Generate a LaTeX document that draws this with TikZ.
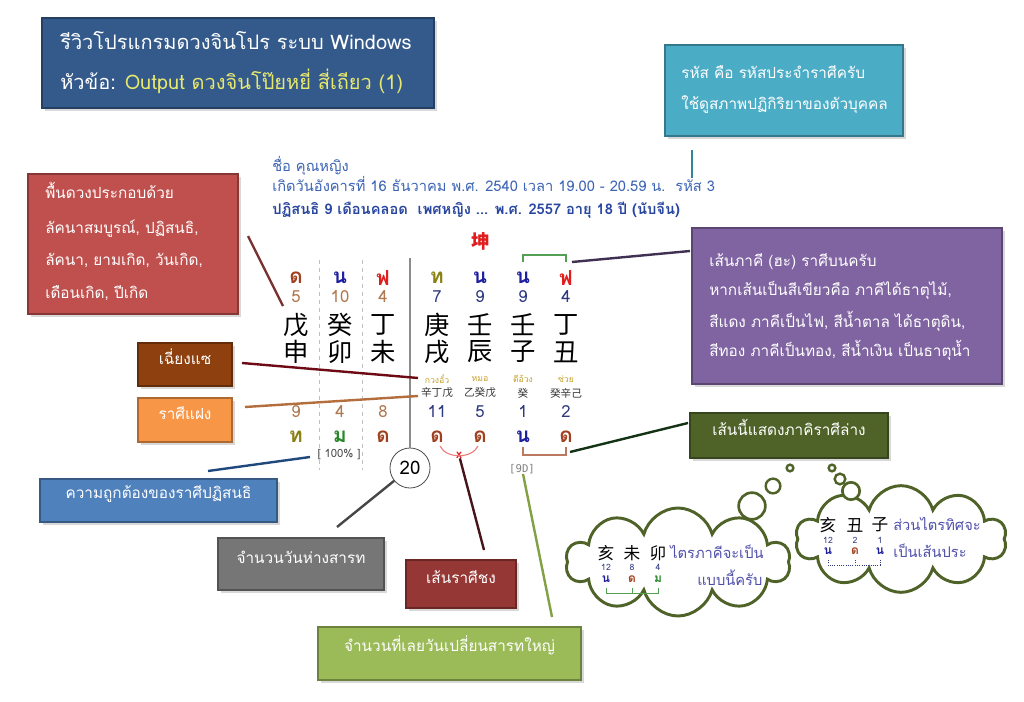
\documentclass[tikz,border=0pt]{standalone}
\usepackage{fontspec}
\setmainfont{Loma}[Script=Thai]
\newfontfamily\cjk{Noto Sans CJK SC}
\newfontfamily\mono{DejaVu Sans Mono}
\usetikzlibrary{shapes.symbols,shadows,fit}

\definecolor{titleblue}{RGB}{52,90,140}
\definecolor{titleyellow}{RGB}{232,232,110}
\definecolor{cyanbox}{RGB}{75,172,198}
\definecolor{redbox}{RGB}{192,80,77}
\definecolor{purplebox}{RGB}{128,100,162}
\definecolor{brownbox}{RGB}{142,64,14}
\definecolor{orangebox}{RGB}{247,150,70}
\definecolor{bluebox}{RGB}{79,129,189}
\definecolor{graybox}{RGB}{118,118,118}
\definecolor{darkredbox}{RGB}{149,55,53}
\definecolor{greenbox}{RGB}{155,187,89}
\definecolor{darkgreenbox}{RGB}{79,98,40}
\definecolor{puffgreen}{RGB}{79,98,40}
\definecolor{headblue}{RGB}{60,100,180}
\definecolor{headdark}{RGB}{40,70,160}
\definecolor{dcol}{RGB}{160,64,30}
\definecolor{ncol}{RGB}{30,30,160}
\definecolor{fcol}{RGB}{225,30,30}
\definecolor{tcol}{RGB}{140,130,20}
\definecolor{mcol}{RGB}{40,135,40}
\definecolor{tancol}{RGB}{176,120,80}
\definecolor{navycol}{RGB}{46,58,128}
\definecolor{goldcol}{RGB}{200,160,40}
\definecolor{thinkcol}{RGB}{80,80,170}
\definecolor{redlink}{RGB}{120,50,50}
\definecolor{brownlink}{RGB}{110,10,20}
\definecolor{orangelink}{RGB}{180,110,60}
\definecolor{bluelink}{RGB}{31,73,125}
\definecolor{graylink}{RGB}{70,70,70}
\definecolor{darkredlink}{RGB}{70,20,25}
\definecolor{greenlink}{RGB}{130,160,70}
\definecolor{cyanlink}{RGB}{49,132,155}
\definecolor{purplelink}{RGB}{64,49,82}
\definecolor{darkgreenlink}{RGB}{20,50,20}

\begin{document}
\begin{tikzpicture}
[x=0.75pt,y=-0.75pt,every node/.style={inner sep=0pt},
 note/.style={draw=#1!70!black,fill=#1,line width=1.2pt,text=white,
   font=\fontsize{11.5}{14}\selectfont,
   drop shadow={shadow xshift=2pt,shadow yshift=-2pt,opacity=0.3}},
 notetext/.style={anchor=base west,text=white,font=\fontsize{11.5}{14}\selectfont},
 headtext/.style={anchor=base west,text=headblue,font=\fontsize{11}{13}\selectfont},
 link/.style={draw=#1,line width=1.8pt},
 tag/.style={font=\bfseries\fontsize{15.5}{16}\selectfont},
 num/.style={font=\fontsize{12.5}{13}\selectfont},
 han/.style={font=\cjk\fontsize{19}{19}\selectfont},
 hansmall/.style={font=\cjk\fontsize{8}{8}\selectfont,text=black!80},
 smallhan/.style={font=\cjk\fontsize{12.5}{13}\selectfont},
 mini/.style={font=\fontsize{6.5}{7}\selectfont},
 minitag/.style={font=\bfseries\fontsize{9}{9}\selectfont},
 think/.style={anchor=base west,text=thinkcol,font=\fontsize{11}{13}\selectfont},
 puff/.style={draw=puffgreen,line width=2.2pt,fill=white}]

  \fill[white] (0,0) rectangle (1024,702);
  \useasboundingbox (0,0) rectangle (1024,702);

  % title
  \node[note=titleblue,fit={(42,18) (434,108)}] (titlebox) {};
  \node[notetext,font=\fontsize{15}{18}\selectfont] (title1) at (60,50) {รีวิวโปรแกรมดวงจินโปร ระบบ Windows};
  \node[notetext,font=\fontsize{15}{18}\selectfont] (title2) at (60,90) {หัวข้อ: \textcolor{titleyellow}{Output ดวงจินโป๊ยหยี่ สี่เถียว (1)}};

  % boxes with several lines
  \node[note=cyanbox,fit={(665,45) (903,136)}] (codebox) {};
  \node[notetext] (code1) at (681,79) {รหัส คือ รหัสประจำราศีครับ};
  \node[notetext] (code2) at (681,110) {ใช้ดูสภาพปฏิกิริยาของตัวบุคคล};

  \node[note=redbox,fit={(28,174) (238,314)}] (basebox) {};
  \node[notetext] (base1) at (45,199) {พื้นดวงประกอบด้วย};
  \node[notetext] (base2) at (45,234) {ลัคนาสมบูรณ์, ปฏิสนธิ,};
  \node[notetext] (base3) at (45,266) {ลัคนา, ยามเกิด, วันเกิด,};
  \node[notetext] (base4) at (45,298) {เดือนเกิด, ปีเกิด};

  \node[note=purplebox,fit={(692,228) (1002,384)}] (hapbox) {};
  \node[notetext] (hap1) at (709,267) {เส้นภาคี (ฮะ) ราศีบนครับ};
  \node[notetext] (hap2) at (709,296) {หากเส้นเป็นสีเขียวคือ ภาคีได้ธาตุไม้,};
  \node[notetext] (hap3) at (709,327) {สีแดง ภาคีเป็นไฟ, สีน้ำตาล ได้ธาตุดิน,};
  \node[notetext] (hap4) at (709,356) {สีทอง ภาคีเป็นทอง, สีน้ำเงิน เป็นธาตุน้ำ};

  % boxes with one line
  \node[note=brownbox,fit={(138,343) (232,386)}] (cheangbox) {เฉี่ยงแซ};
  \node[note=orangebox,fit={(138,398) (232,442)}] (hiddenbox) {ราศีแฝง};
  \node[note=bluebox,fit={(40,479) (277,522)}] (accbox) {ความถูกต้องของราศีปฏิสนธิ};
  \node[note=graybox,fit={(218,538) (384,590)}] (daysbox) {จำนวนวันห่างสารท};
  \node[note=darkredbox,fit={(406,560) (516,608)}] (clashbox) {เส้นราศีชง};
  \node[note=greenbox,fit={(318,627) (581,680)}] (overbox) {จำนวนที่เลยวันเปลี่ยนสารทใหญ่};
  \node[note=darkgreenbox,fit={(690,413) (888,458)}] (lowbox) {เส้นนี้แสดงภาคิราศีล่าง};

  % header
  \node[headtext] (head1) at (272,172) {ชื่อ คุณหญิง};
  \node[headtext] (head2) at (272,192) {เกิดวันอังคารที่ 16 ธันวาคม พ.ศ. 2540 เวลา 19.00 - 20.59 น.~~รหัส 3};
  \node[headtext,text=headdark,font=\bfseries\fontsize{11}{13}\selectfont] (head3) at (272,215) {ปฏิสนธิ 9 เดือนคลอด~~เพศหญิง ... พ.ศ. 2557 อายุ 18 ปี (นับจีน)};
  \node[text=fcol,font=\cjk\bfseries\fontsize{14}{14}\selectfont] (kun) at (481,241) {坤};

  % chart
  \foreach \n/\x/\tl/\tc/\nc/\up/\stem/\br/\dn/\ll/\lc in {
    1/296/ด/dcol/tancol/5/戊/申/9/ท/tcol,
    2/340/น/ncol/tancol/10/癸/卯/4/ม/mcol,
    3/383/ฟ/fcol/tancol/4/丁/未/8/ด/dcol,
    4/437/ท/tcol/navycol/7/庚/戌/11/ด/dcol,
    5/480/น/ncol/navycol/9/壬/辰/5/ด/dcol,
    6/523/น/ncol/navycol/9/壬/子/1/น/ncol,
    7/566/ฟ/fcol/navycol/4/丁/丑/2/ด/dcol}
  {
    \node[tag,text=\tc] (top\n) at (\x,278) {\tl};
    \node[num,text=\nc] (up\n) at (\x,297) {\up};
    \node[han] (stem\n) at (\x,325) {\stem};
    \node[han] (br\n) at (\x,352) {\br};
    \node[num,text=\nc] (dn\n) at (\x,412) {\dn};
    \node[tag,text=\lc] (low\n) at (\x,437) {\ll};
  }
  \foreach \n/\x/\k/\h in {4/437/กวงอั๋ว/辛丁戊,5/480/หมอ/乙癸戊,6/523/ตีอ้วง/癸,7/566/ซ่วย/癸辛己}
  {
    \node[mini,text=goldcol] (kw\n) at (\x,379) {\k};
    \node[hansmall] (hs\n) at (\x,393) {\h};
  }
  \node[circle,draw=black!70,line width=0.6pt,minimum size=30pt,font=\fontsize{14}{14}\selectfont] (days) at (410,468) {20};
  \node[text=black!70,font=\fontsize{8.5}{9}\selectfont] (acc) at (339,454) {[ 100\% ]};
  \node[text=black!50,font=\mono\fontsize{8}{9}\selectfont] (nine) at (522,469) {[9D]};
  \node[text=fcol,font=\bfseries\fontsize{9}{9}\selectfont] (clash) at (459,455) {x};

  \coordinate (divtop) at (410,258);
  \draw[black!45,line width=0.8pt] (divtop) -- (days);
  \foreach \x in {319,362}
    \draw[black!25,dashed,line width=0.5pt] (\x,260) -- (\x,470);
  \draw[mcol!80,line width=0.8pt] (523,262) |- (566,255) -- (566,262);
  \draw[dcol!70,line width=0.8pt] (523,447) |- (566,455) -- (566,447);
  \draw[fcol!60,line width=0.8pt] (440,446) .. controls (446,459) and (472,459) .. (478,446);

  % clouds
  \node[cloud,cloud puffs=10,aspect=2.1,puff,minimum width=168pt,minimum height=81pt] (cloudA) at (678,562) {};
  \node[cloud,cloud puffs=10,aspect=2.1,puff,minimum width=158pt,minimum height=80pt] (cloudB) at (901,539) {};
  \node[circle,puff,line width=1.8pt,minimum size=5pt] (bubA1) at (790,468) {};
  \node[circle,puff,line width=1.8pt,minimum size=11pt] (bubA2) at (773,486) {};
  \node[circle,puff,line width=2pt,minimum size=20pt] (bubA3) at (752,506) {};
  \node[circle,puff,line width=1.8pt,minimum size=5pt] (bubB1) at (832,468) {};
  \node[circle,puff,line width=1.8pt,minimum size=8pt] (bubB2) at (840,479) {};
  \node[circle,puff,line width=2pt,minimum size=13pt] (bubB3) at (851,491) {};

  \foreach \n/\x/\h/\v/\l/\c in {1/606/亥/12/น/ncol,2/632/未/8/ด/dcol,3/658/卯/4/ม/mcol}
  {
    \node[smallhan] (triA\n) at (\x,553) {\h};
    \node[mini,text=navycol] (numA\n) at (\x,567) {\v};
    \node[minitag,text=\c] (letA\n) at (\x,579) {\l};
  }
  \node[think] (thinkA1) at (670,558) {ไตรภาคีจะเป็น};
  \node[think] (thinkA2) at (697,585) {แบบนี้ครับ};
  \draw[mcol!80,line width=0.7pt] (606,588) |- (658,593) -- (658,588);
  \draw[mcol!80,line width=0.7pt] (632,588) -- (632,593);

  \foreach \n/\x/\h/\v/\l/\c in {1/828/亥/12/น/ncol,2/855/丑/2/ด/dcol,3/880/子/1/น/ncol}
  {
    \node[smallhan] (triB\n) at (\x,525) {\h};
    \node[mini,text=navycol] (numB\n) at (\x,540) {\v};
    \node[minitag,text=\c] (letB\n) at (\x,551) {\l};
  }
  \node[think] (thinkB1) at (893,530) {ส่วนไตรทิศจะ};
  \node[think] (thinkB2) at (893,557) {เป็นเส้นประ};
  \draw[navycol,densely dotted,line width=0.7pt] (828,560) |- (880,565) -- (880,560);
  \draw[navycol,densely dotted,line width=0.7pt] (855,560) -- (855,565);

  % connectors
  \coordinate (baseend) at (248,236);  \coordinate (basetip) at (283,306);
  \coordinate (cheangend) at (242,363); \coordinate (cheangtip) at (418,378);
  \coordinate (hiddenend) at (245,407); \coordinate (hiddentip) at (418,396);
  \coordinate (accend) at (208,471);   \coordinate (acctip) at (310,457);
  \coordinate (daysend) at (337,527);
  \coordinate (clashend) at (484,550);
  \coordinate (overend) at (552,617);
  \coordinate (codeend) at (692,150);  \coordinate (codetip) at (692,178);
  \coordinate (hapend) at (690,251);   \coordinate (haptip) at (572,262);
  \coordinate (lowend) at (688,423);   \coordinate (lowtip) at (570,452);

  \foreach \from/\to/\c in {baseend/basetip/redlink, cheangend/cheangtip/brownlink,
      hiddenend/hiddentip/orangelink, accend/acctip/bluelink, daysend/days/graylink,
      clashend/clash/darkredlink, overend/nine/greenlink, codeend/codetip/cyanlink,
      hapend/haptip/purplelink, lowend/lowtip/darkgreenlink}
    \draw[link=\c] (\from) -- (\to);
\end{tikzpicture}
\end{document}
